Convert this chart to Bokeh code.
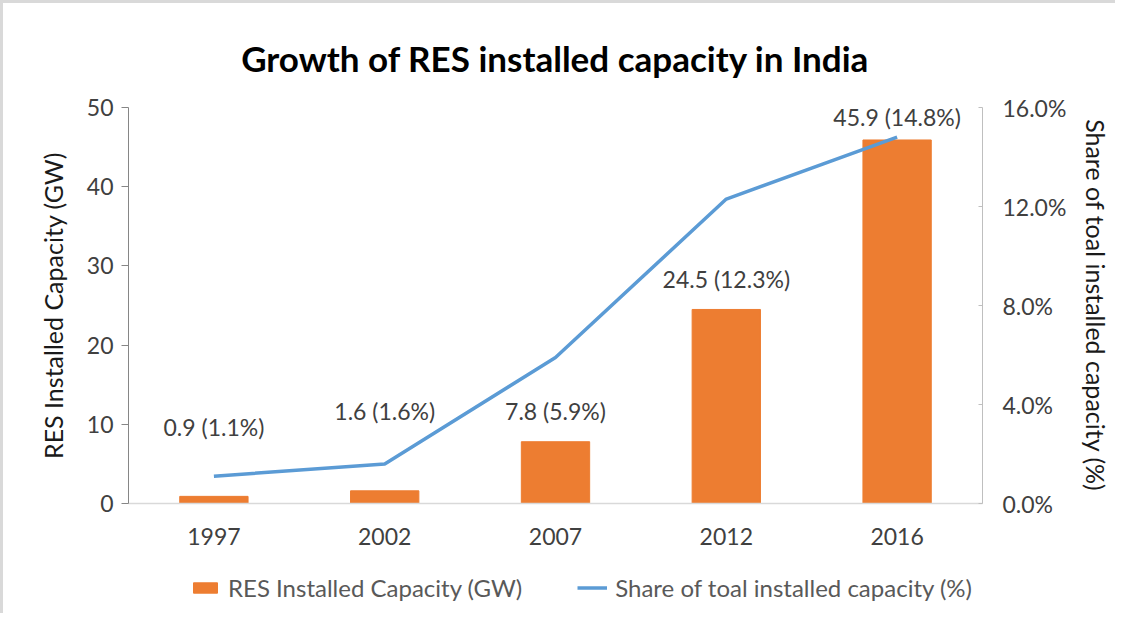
from bokeh.plotting import figure
from bokeh.layouts import column
from bokeh.models import (ColumnDataSource, Range1d, LinearAxis, FixedTicker,
                          PrintfTickFormatter, Legend, LegendItem, Title, FactorRange)
from bokeh.embed import file_html
from bokeh.resources import INLINE
from bokeh.core.properties import value

# ---- data ----
years = ["1997", "2002", "2007", "2012", "2016"]
capacity_gw = [0.9, 1.6, 7.8, 24.5, 45.9]
share_pct = [1.1, 1.6, 5.9, 12.3, 14.8]
left_ticks = [0, 10, 20, 30, 40, 50]
right_ticks = [0, 4, 8, 12, 16]

FONT = "Lato"
ORANGE = "#ED7D31"
BLUE = "#5B9BD5"
TXT = "#404040"
TICK_FS = "23px"
AXLAB_FS = "25px"

labels = [f"{c} ({s}%)" for c, s in zip(capacity_gw, share_pct)]
label_offsets = [-55, -66, -17, -16, -9]

src = ColumnDataSource(dict(year=years, cap=capacity_gw, share=share_pct,
                            label=labels, yoff=label_offsets))

W, H1, H2 = 1112, 552, 58
p = figure(width=W, height=H1, x_range=FactorRange(*years), y_range=Range1d(0, 50),
           output_backend="svg", toolbar_location=None,
           min_border_left=125, min_border_right=W - 979,
           min_border_top=104, min_border_bottom=H1 - 500)
p.extra_y_ranges = {"pct": Range1d(0, 16)}

p.outline_line_color = None
p.xgrid.visible = False
p.ygrid.visible = False
p.background_fill_color = "white"
p.border_fill_color = "white"

p.vbar(x="year", top="cap", width=0.4, source=src, color=ORANGE)
p.line(x="year", y="share", source=src, y_range_name="pct",
       line_color=BLUE, line_width=3.5)

p.text(x="year", y="cap", text="label", source=src, y_offset="yoff",
       text_align="center", text_baseline="bottom",
       text_font=value(FONT), text_font_size=TICK_FS, text_color=TXT)

# left axis
ya = p.yaxis[0]
ya.ticker = FixedTicker(ticks=left_ticks)
ya.axis_label = "RES Installed Capacity (GW)"
ya.axis_line_color = "#868686"
ya.major_tick_line_color = "#868686"
ya.major_tick_out = 7
ya.major_tick_in = 0
ya.minor_tick_line_color = None
ya.major_label_text_font = FONT
ya.major_label_text_font_size = TICK_FS
ya.major_label_text_color = TXT
ya.axis_label_text_font = FONT
ya.axis_label_text_font_size = AXLAB_FS
ya.axis_label_text_font_style = "normal"
ya.axis_label_text_color = "#1a1a1a"
ya.axis_label_standoff = 16
ya.major_label_standoff = 8

# right axis
ra = LinearAxis(y_range_name="pct", ticker=FixedTicker(ticks=right_ticks),
                formatter=PrintfTickFormatter(format="%.1f%%"),
                axis_label="Share of toal installed capacity (%)")
ra.axis_line_color = "#BFBFBF"
ra.major_tick_line_color = "#BFBFBF"
ra.major_tick_in = 4
ra.major_tick_out = 0
ra.minor_tick_line_color = None
ra.major_label_text_font = FONT
ra.major_label_text_font_size = TICK_FS
ra.major_label_text_color = TXT
ra.axis_label_text_font = FONT
ra.axis_label_text_font_size = AXLAB_FS
ra.axis_label_text_font_style = "normal"
ra.axis_label_text_color = "#1a1a1a"
ra.axis_label_standoff = 12
ra.major_label_standoff = 20
p.add_layout(ra, "right")

# x axis
xa = p.xaxis[0]
xa.axis_line_color = "#D9D9D9"
xa.axis_line_width = 1.5
xa.major_tick_line_color = None
xa.minor_tick_line_color = None
xa.major_label_text_font = FONT
xa.major_label_text_font_size = TICK_FS
xa.major_label_text_color = TXT
xa.major_label_standoff = 18

# title
t = Title(text="Growth of RES installed capacity in India", align="center",
          text_font=FONT, text_font_size="35px", text_font_style="bold",
          text_color="#000000", standoff=58)
p.add_layout(t, "above")

# legend strip (separate figure below the chart; its glyphs lie outside its view)
q = figure(width=W, height=H2, x_range=FactorRange(*years), y_range=Range1d(1000, 1001),
           output_backend="svg", toolbar_location=None,
           min_border_left=0, min_border_right=0, min_border_top=0, min_border_bottom=0)
q.axis.visible = False
q.grid.visible = False
q.outline_line_color = None
q.border_fill_color = "white"
lg_bar = q.vbar(x="year", top="cap", width=0.4, source=src, color=ORANGE)
lg_line = q.line(x="year", y="share", source=src, line_color=BLUE, line_width=3.5)

legend = Legend(items=[LegendItem(label="RES Installed Capacity (GW)", renderers=[lg_bar]),
                       LegendItem(label="Share of toal installed capacity (%)", renderers=[lg_line])],
                orientation="horizontal", location=(62, 11),
                glyph_width=30, glyph_height=13, label_standoff=8, spacing=55,
                padding=0, margin=0, border_line_color=None, background_fill_alpha=0,
                label_text_font=FONT, label_text_font_size="24px", label_text_color="#595959")
q.add_layout(legend, "center")

layout = column(p, q, spacing=0,
                styles={"border-left": "3px solid #D9D9D9", "border-top": "3px solid #D9D9D9"})

open("out.html", "w").write(file_html(layout, INLINE))
